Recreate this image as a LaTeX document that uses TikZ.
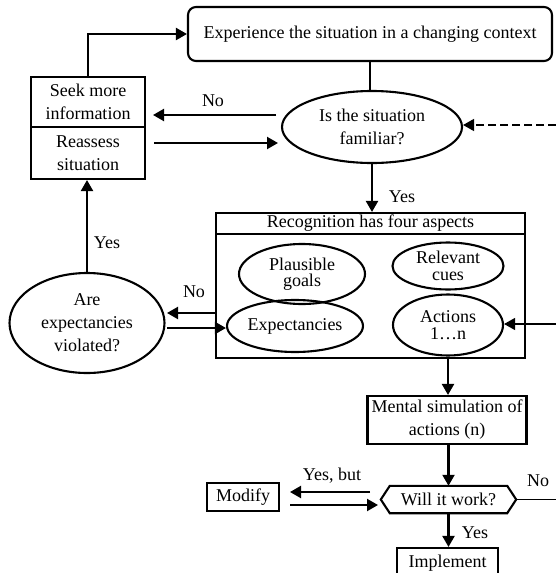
\documentclass[tikz,border=0pt]{standalone}
\usepackage{fontspec}
\setmainfont{Liberation Serif}
\usetikzlibrary{arrows.meta,shapes.geometric}
\begin{document}
\begin{tikzpicture}[x=1pt,y=-1pt,
  font=\fontsize{18}{23}\selectfont,
  box/.style={draw, line width=2.1pt, inner sep=0pt, align=center},
  oval/.style={draw, ellipse, line width=2.1pt, inner sep=0pt, align=center},
  tight/.style={font=\fontsize{18}{16.5}\selectfont},
  tip/.style={-{Triangle[length=11pt,width=12pt]}},
  arr/.style={line width=2.1pt, tip},
  thin/.style={line width=1.1pt},
  lbl/.style={inner sep=0pt},
]
\useasboundingbox (0,0) rectangle (556,573);

% --- boxes and decisions ---
\node[box, rounded corners=8pt, minimum width=364pt, minimum height=54pt] (top) at (370,34)
  {Experience the situation in a changing context};
\node[box, minimum width=114pt, minimum height=50pt] (seek) at (88,102) {Seek more\\information};
\node[box, minimum width=114pt, minimum height=52pt] (reassess) at (88,153) {Reassess\\situation};
\node[oval, minimum width=180pt, minimum height=72pt] (familiar) at (372,127) {Is the situation\\familiar?};

% recognition frame with its title bar
\node[box, minimum width=309pt, minimum height=21pt] (rtitle) at (370.5,223.5) {Recognition has four aspects};
\node[box, minimum width=309pt, minimum height=124pt] (rbody) at (370.5,296) {};
\node[oval, tight, minimum width=126pt, minimum height=60pt] (goals) at (302,274) {Plausible\\goals};
\node[oval, tight, minimum width=111pt, minimum height=47pt] (cues) at (448,266) {Relevant\\cues};
\node[oval, minimum width=136pt, minimum height=52pt] (expect) at (295,326) {Expectancies};
\node[oval, tight, minimum width=110pt, minimum height=61pt] (actions) at (448,325) {Actions\\1…n};

\node[oval, minimum width=155pt, minimum height=100pt] (violated) at (87,323) {Are\\expectancies\\violated?};

\node[box, minimum width=159pt, minimum height=48pt] (mental) at (447,420) {Mental simulation of\\actions (n)};

% hexagonal decision
\node[inner sep=0pt, minimum width=135pt, minimum height=27pt] (will) at (448.5,499.5) {Will it work?};
\draw[line width=2.1pt] (will.west) -- ([xshift=9pt]will.north west) -- ([xshift=-9pt]will.north east)
  -- (will.east) -- ([xshift=-9pt]will.south east) -- ([xshift=9pt]will.south west) -- cycle;

\node[box, minimum width=72pt, minimum height=28pt] (modify) at (243,497) {Modify};
\node[box, minimum width=101pt, minimum height=30pt] (implement) at (447.5,563) {Implement};

% --- free ends of connectors ---
\coordinate (noR) at (276,115);
\coordinate (noL) at (153,115);
\coordinate (raL) at (154,143);
\coordinate (raR) at (278,143);
\coordinate (dashEnd) at (556,125);
\coordinate (noV1) at (216,313);
\coordinate (noV2) at (167,313);
\coordinate (exA) at (167,328);
\coordinate (actIn) at (556,324);
\coordinate (ybR) at (370,492);
\coordinate (ybL) at (290,492);
\coordinate (ybL2) at (290,505);
\coordinate (ybR2) at (378,505);
\coordinate (noOut) at (556,498);

% --- connectors ---
\draw[arr] (seek.north) |- (top.west);
\draw[line width=2.1pt] (top.south) -- (top.south |- familiar.north);
\draw[arr] (noR) -- (noL);
\draw[arr] (raL) -- (raR);
\draw[line width=1.5pt, dash pattern=on 8pt off 4pt, tip] (dashEnd) -- (familiar.east |- dashEnd);
\draw[arr] (familiar.south) -- (familiar.south |- rtitle.north);
\draw[arr] (violated.north) -- (violated.north |- reassess.south);
\draw[arr] (noV1) -- (noV2);
\draw[arr] (exA) -- (expect.west |- exA);
\draw[thin, tip] (actIn) -- (actions.east |- actIn);
\draw[arr] (actions.south) -- (actions.south |- mental.north);
\draw[arr] (will.north |- mental.south) -- (will.north);
\draw[arr] (ybR) -- (ybL);
\draw[arr] (ybL2) -- (ybR2);
\draw[arr] (will.south) -- (will.south |- implement.north);
\draw[thin] (will.east) -- (will.east -| noOut);

% --- labels ---
\node[lbl] (lNo1) at (213,101) {No};
\node[lbl] (lYes1) at (402,197) {Yes};
\node[lbl] (lYes2) at (107,243) {Yes};
\node[lbl] (lNo2) at (194,292) {No};
\node[lbl] (lYesBut) at (332,476) {Yes, but};
\node[lbl] (lYes3) at (475,533) {Yes};
\node[lbl] (lNo3) at (538,481) {No};
\end{tikzpicture}
\end{document}
